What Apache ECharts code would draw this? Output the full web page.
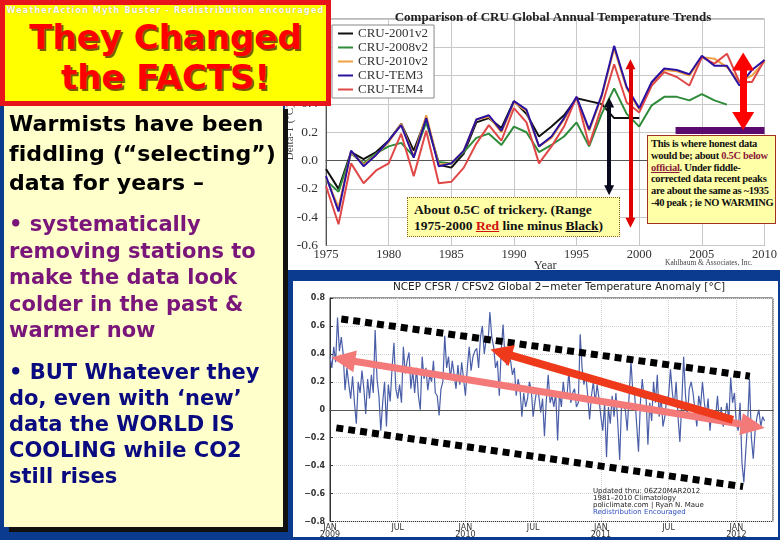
<!DOCTYPE html>
<html>
<head>
<meta charset="utf-8">
<script src="https://cdn.jsdelivr.net/npm/echarts/dist/echarts.min.js"></script>
<style>
  body { margin: 0; background: #0b3b8f; }
  #slide { position: relative; width: 780px; height: 540px; overflow: hidden; background: #0b3b8f; }
  .bg-top { position: absolute; left: 285px; top: 0; width: 495px; height: 270px; background: #fff; }
  .bg-bottom { position: absolute; left: 293px; top: 281px; width: 485px; height: 256px; background: #fff; }
  #chart { position: absolute; left: 0; top: 0; width: 780px; height: 540px; z-index: 1; }

  .title-box {
    position: absolute; left: 0; top: 0; width: 331px; height: 106px; box-sizing: border-box;
    background: #ffff00; border: 5px solid #e8141c; z-index: 3;
  }
  .title-box .tiny {
    position: absolute; left: 0; right: 0; top: 1px; text-align: center;
    font: bold 8px "DejaVu Sans", sans-serif; letter-spacing: 1.2px; color: #fff;
    text-shadow: 0 0 1px #b0a000;
  }
  .title-box .big {
    position: absolute; left: 0; right: 0; top: 12px; text-align: center;
    font: bold 34px/40px "DejaVu Sans", sans-serif; color: #ff0000;
    text-shadow: 2px 2px 0 #7a5c00;
  }

  .left-panel {
    position: absolute; left: 4px; top: 104px; width: 279px; height: 423px;
    background: #ffffcc; box-shadow: 5px 5px 0 #111; z-index: 2;
  }
  .left-panel div { position: absolute; left: 5px; font-family: "DejaVu Sans", sans-serif; font-weight: bold; white-space: nowrap; }
  .txt-black { top: 5px; font-size: 22px; line-height: 29.5px; letter-spacing: 0.1px; color: #000; }
  .txt-purple { top: 107px; font-size: 21px; line-height: 26.5px; color: #7a167a; }
  .txt-navy { top: 255px; font-size: 21px; line-height: 26px; color: #0a0a80; }

  .note1 {
    position: absolute; left: 407px; top: 197px; width: 213px; height: 40px; box-sizing: border-box;
    background: #ffffa8; border: 1px dotted #8b5a2b; z-index: 2;
    padding: 4px 0 0 6px; font: bold 13.5px/16px "Liberation Serif", serif; color: #111; white-space: nowrap;
  }
  .note2 {
    position: absolute; left: 647px; top: 135px; width: 129px; height: 89px; box-sizing: border-box;
    background: #ffffa8; border: 1px solid #a03020; z-index: 2;
    padding: 2px 0 0 3px; font: bold 10.5px/11.8px "Liberation Serif", serif; letter-spacing: -0.3px;
    color: #111; white-space: nowrap;
  }
  .maroon { color: #8b1a3a; }
  .kahl { position: absolute; left: 665px; top: 258px; font: 7.5px "Liberation Serif", serif; color: #444; z-index: 2; }
  .credit {
    position: absolute; left: 593px; top: 488px; font: 7px/7px "DejaVu Sans", sans-serif; color: #222; z-index: 2;
    white-space: nowrap;
  }
  .credit .blue { color: #3050c0; }
</style>
</head>
<body>
<div id="slide">
  <div class="bg-top"></div>
  <div class="bg-bottom"></div>
  <div id="chart"></div>

  <div class="title-box">
    <div class="tiny">WeatherAction Myth Buster - Redistribution encouraged</div>
    <div class="big">They Changed<br>the FACTS!</div>
  </div>

  <div class="left-panel">
    <div class="txt-black">Warmists have been<br>fiddling (“selecting”)<br>data for years –</div>
    <div class="txt-purple">• systematically<br>removing stations to<br>make the data look<br>colder in the past &amp;<br>warmer now</div>
    <div class="txt-navy">• BUT Whatever they<br>do, even with ‘new’<br>data the WORLD IS<br>COOLING while CO2<br>still rises</div>
  </div>

  <div class="note1">About 0.5C of trickery. (Range<br>1975-2000 <u style="color:#d01010">Red</u> line minus <u>Black</u>)</div>
  <div class="note2">This is where honest data<br>would be; about <span class="maroon">0.5C below</span><br><u class="maroon">official</u>. Under fiddle-<br>corrected data recent peaks<br>are about the same as ~1935<br>-40 peak ; ie NO WARMING</div>
  <div class="kahl">Kahlbaum &amp; Associates, Inc.</div>
  <div class="credit">Updated thru: 06Z20MAR2012<br>1981–2010 Climatology<br>policlimate.com | Ryan N. Maue<br><span class="blue">Redistribution Encouraged</span></div>
</div>

<script>
// CRU annual series, 1975..2010 (null = series not available)
const cruYears = [
  1975, 1976, 1977, 1978, 1979, 1980, 1981, 1982, 1983, 1984, 1985, 1986,
  1987, 1988, 1989, 1990, 1991, 1992, 1993, 1994, 1995, 1996, 1997, 1998,
  1999, 2000, 2001, 2002, 2003, 2004, 2005, 2006, 2007, 2008, 2009, 2010,
]
const cru2001v2 = [
  -0.06, -0.20, 0.06, 0.01, 0.06, 0.14, 0.26, 0.07, 0.30, -0.03, -0.05, 0.05,
  0.27, 0.30, 0.23, 0.42, 0.33, 0.17, 0.24, 0.32, 0.44, 0.42, 0.40, 0.30,
  0.30, 0.30, null, null, null, null, null, null, null, null, null, null,
]
const cru2008v2 = [
  -0.14, -0.22, 0.05, -0.02, 0.05, 0.10, 0.125, 0.03, 0.27, -0.01, -0.02, 0.06,
  0.16, 0.19, 0.11, 0.24, 0.20, 0.06, 0.11, 0.17, 0.27, 0.10, 0.33, 0.51,
  0.33, 0.24, 0.39, 0.45, 0.45, 0.425, 0.47, 0.425, 0.395, null, null, null,
]
const cru2010v2 = [
  -0.12, -0.33, 0.06, -0.03, 0.04, 0.13, 0.26, 0.03, 0.32, -0.03, -0.02, 0.07,
  0.29, 0.31, 0.20, 0.41, 0.35, 0.10, 0.16, 0.29, 0.44, 0.21, 0.45, 0.79,
  0.51, 0.36, 0.54, 0.64, 0.63, 0.60, 0.73, 0.72, 0.66, 0.56, 0.60, 0.70,
]
const cruTem3 = [
  -0.11, -0.36, 0.07, -0.04, 0.04, 0.14, 0.25, 0.02, 0.30, -0.04, -0.02, 0.07,
  0.29, 0.32, 0.21, 0.42, 0.36, 0.10, 0.17, 0.30, 0.45, 0.22, 0.46, 0.81,
  0.52, 0.37, 0.555, 0.65, 0.64, 0.61, 0.74, 0.67, 0.67, 0.53, 0.64, 0.71,
]
const cruTem4 = [
  -0.18, -0.45, -0.02, -0.16, -0.07, -0.02, 0.19, -0.11, 0.21, -0.16, -0.15, -0.05,
  0.12, 0.25, 0.14, 0.37, 0.27, -0.02, 0.10, 0.24, 0.45, 0.11, 0.38, 0.68,
  0.41, 0.34, 0.53, 0.625, 0.59, 0.53, 0.73, 0.685, 0.755, 0.555, 0.555, 0.71,
]
const yearTicks = [1975, 1980, 1985, 1990, 1995, 2000, 2005, 2010]

// NCEP CFSR/CFSv2 anomaly, about every 5 days (6 per month) from Jan 2009
const ncepStepMonths = 1 / 6
const ncepAnom = [
  // 2009
  0.38, 0.30, 0.45, 0.34, 0.66, 0.42, 0.52, 0.40, 0.14, 0.30, 0.18, 0.08,
  0.24, 0.05, -0.10, 0.20, 0.12, 0.28, 0.15, -0.03, 0.22, 0.08, 0.25, 0.12,
  0.57, 0.22, 0.10, -0.15, 0.05, 0.20, -0.12, 0.18, 0.06, 0.30, 0.48, 0.15,
  0.08, 0.18, 0.05, 0.45, 0.26, 0.35, 0.41, 0.15, 0.28, 0.12, 0.30, 0.10,
  0.00, 0.38, 0.22, 0.30, 0.14, 0.25, 0.20, 0.35, 0.12, 0.10, -0.04, 0.15,
  0.20, 0.53, 0.30, 0.38, 0.22, 0.35, 0.25, 0.15, 0.32, 0.18, 0.34, 0.22,
  // 2010
  0.10, 0.30, 0.45, 0.28, 0.38, 0.42, 0.44, 0.30, 0.52, 0.60, 0.40, 0.50,
  0.48, 0.70, 0.52, 0.45, 0.30, 0.35, 0.10, 0.42, 0.61, 0.38, 0.32, 0.40,
  0.35, 0.25, 0.30, 0.10, 0.22, 0.15, -0.05, 0.12, 0.02, 0.08, 0.20, 0.14,
  -0.05, 0.06, 0.15, 0.10, -0.02, 0.08, -0.19, 0.07, 0.25, 0.05, 0.10, 0.02,
  0.12, -0.22, 0.12, 0.02, 0.20, 0.08, 0.10, 0.28, 0.05, 0.12, 0.15, 0.02,
  0.05, 0.54, 0.30, 0.18, 0.25, 0.10, -0.07, 0.10, 0.20, 0.05, 0.18, 0.08,
  // 2011
  -0.05, -0.15, 0.05, -0.34, 0.02, -0.10, 0.10, -0.05, 0.12, -0.10, -0.36, 0.05,
  0.05, 0.00, -0.15, 0.10, 0.35, 0.12, 0.10, -0.10, -0.30, 0.05, 0.22, 0.08,
  0.10, -0.25, 0.05, -0.08, 0.20, 0.05, 0.25, -0.05, 0.10, -0.12, -0.05, 0.08,
  0.10, 0.29, 0.12, 0.02, 0.20, -0.05, -0.23, 0.05, 0.38, 0.10, -0.05, 0.15,
  0.20, 0.12, 0.00, -0.12, 0.10, 0.02, 0.20, 0.05, -0.05, 0.08, -0.15, 0.00,
  0.00, -0.05, 0.10, -0.10, 0.02, -0.12, -0.05, 0.05, -0.08, 0.23, 0.05, 0.12,
  // 2012
  -0.10, -0.15, 0.05, -0.38, -0.52, -0.30, -0.10, 0.22, -0.20, -0.35, -0.15, -0.05,
  0.00, -0.12, -0.05, -0.08,
]
const monthLabels = { 0: 'JAN\n2009', 6: 'JUL', 12: 'JAN\n2010', 18: 'JUL', 24: 'JAN\n2011', 30: 'JUL', 36: 'JAN\n2012' }

const serif = 'Liberation Serif'
const sans = 'DejaVu Sans'

function pairs(xs, ys) {
  const out = []
  xs.forEach((x, i) => {
    if (ys[i] !== null)
      out.push([x, ys[i]])
  })
  return out
}

function cruSeries(name, values, color) {
  return {
    name,
    type: 'line',
    xAxisIndex: 0,
    yAxisIndex: 0,
    data: pairs(cruYears, values),
    showSymbol: false,
    lineStyle: { color, width: 2 },
    itemStyle: { color },
    emphasis: { disabled: true },
  }
}

// line helper for the drawn-on annotations (arrows, bars)
function seg(from, to, color, width, fromSym, toSym, type) {
  const ls = { color, width, type: type || 'solid', cap: 'butt' }
  return [
    { coord: from, symbol: fromSym ? 'triangle' : 'none', symbolSize: fromSym || 0, lineStyle: ls },
    { coord: to, symbol: toSym ? 'triangle' : 'none', symbolSize: toSym || 0, lineStyle: ls },
  ]
}

const ncepData = ncepAnom.map((v, i) => [i * ncepStepMonths, v])

const tem3 = cruSeries('CRU-TEM3', cruTem3, '#2c12a0')
tem3.markLine = {
  silent: true,
  animation: false,
  symbol: 'none',
  label: { show: false },
  emphasis: { disabled: true },
  data: [
    seg([1997.6, 0.41], [1997.6, -0.21], '#0a0a1e', 4, [10, 10], [10, 10]),
    seg([1999.3, 0.68], [1999.3, -0.44], '#e00000', 4, [10, 10], [10, 10]),
    seg([2002.9, 0.215], [2010, 0.215], '#5b0b70', 7),
    seg([2008.3, 0.70], [2008.3, 0.28], '#ff0000', 7, [22, 18], [22, 18]),
  ],
}

const ncep = {
  name: 'NCEP',
  type: 'line',
  xAxisIndex: 1,
  yAxisIndex: 1,
  data: ncepData,
  showSymbol: false,
  lineStyle: { color: '#4a5ea8', width: 1.2 },
  emphasis: { disabled: true },
  markLine: {
    silent: true,
    animation: false,
    symbol: 'none',
    label: { show: false },
    emphasis: { disabled: true },
    data: [
      [{ coord: [0, 0], lineStyle: { color: '#555', width: 1, type: 'solid' } }, { coord: [39.25, 0] }],
      seg([1.0, 0.65], [37.2, 0.24], '#000', 7, null, null, [7, 5]),
      seg([0.56, -0.13], [36.6, -0.55], '#000', 7, null, null, [7, 5]),
      seg([1.17, 0.36], [37.47, -0.116], '#f47a7a', 7, [22, 24], [22, 24]),
      seg([35.7, -0.072], [15.16, 0.41], '#ee3a1a', 8, null, [22, 22]),
    ],
  },
}

const option = {
  animation: false,
  title: [
    {
      text: 'Comparison of CRU Global Annual Temperature Trends',
      left: 548,
      top: 6,
      textAlign: 'center',
      textStyle: { fontFamily: serif, fontWeight: 'bold', fontSize: 13, color: '#222' },
    },
    {
      text: 'NCEP CFSR / CFSv2 Global 2−meter Temperature Anomaly [°C]',
      left: 554,
      top: 277,
      textAlign: 'center',
      textStyle: { fontFamily: sans, fontWeight: 'normal', fontSize: 10.5, color: '#222' },
    },
  ],
  legend: {
    data: ['CRU-2001v2', 'CRU-2008v2', 'CRU-2010v2', 'CRU-TEM3', 'CRU-TEM4'],
    orient: 'vertical',
    left: 332,
    top: 25,
    backgroundColor: '#fff',
    borderColor: '#888',
    borderWidth: 1,
    padding: [2, 6, 2, 6],
    itemGap: 1,
    itemWidth: 15,
    itemHeight: 2,
    icon: 'rect',
    selectedMode: false,
    textStyle: { fontFamily: serif, fontSize: 13, color: '#333' },
  },
  grid: [
    { left: 326, top: 19, width: 444, height: 226.5, show: true, borderColor: '#777', borderWidth: 1, backgroundColor: 'transparent' },
    { left: 330, top: 298, width: 443, height: 223.5, show: true, borderColor: '#333', borderWidth: 1, backgroundColor: 'transparent' },
  ],
  xAxis: [
    {
      type: 'value',
      gridIndex: 0,
      min: 1975,
      max: 2010,
      interval: 5,
      name: 'Year',
      nameLocation: 'middle',
      nameGap: 14,
      nameMoveOverlap: false,
      nameTextStyle: { fontFamily: serif, fontSize: 12.5, color: '#333' },
      axisLine: { lineStyle: { color: '#555' } },
      axisTick: { show: false },
      axisLabel: { fontFamily: serif, fontSize: 12.5, color: '#333', margin: 3, formatter: v => (yearTicks.includes(v) ? String(v) : '') },
      splitLine: { lineStyle: { color: '#c8c8c8' } },
    },
    {
      type: 'value',
      gridIndex: 1,
      min: 0,
      max: 39.25,
      interval: 6,
      axisLine: { lineStyle: { color: '#333' } },
      axisTick: { show: false },
      axisLabel: {
        fontFamily: sans,
        fontSize: 8,
        lineHeight: 7,
        color: '#333',
        margin: 3,
        showMaxLabel: false,
        formatter: v => monthLabels[v] || '',
      },
      splitLine: { lineStyle: { color: '#d0d0d0', type: 'dotted' } },
    },
  ],
  yAxis: [
    {
      type: 'value',
      gridIndex: 0,
      min: -0.6,
      max: 1.0,
      interval: 0.2,
      name: 'Delta-T (°C)',
      nameLocation: 'middle',
      nameRotate: 90,
      nameGap: 30,
      nameMoveOverlap: false,
      nameTextStyle: { fontFamily: serif, fontSize: 11, color: '#444' },
      axisLine: { show: true, lineStyle: { color: '#555' } },
      axisTick: { show: false },
      axisLabel: { fontFamily: serif, fontSize: 13.5, color: '#333', margin: 8, formatter: v => v.toFixed(1) },
      splitLine: { lineStyle: { color: '#c8c8c8' } },
    },
    {
      type: 'value',
      gridIndex: 1,
      min: -0.8,
      max: 0.8,
      interval: 0.2,
      axisLine: { show: true, lineStyle: { color: '#333' } },
      axisTick: { show: true, inside: true, length: 3 },
      axisLabel: {
        fontFamily: sans,
        fontSize: 8,
        fontWeight: 'bold',
        color: '#333',
        margin: 5,
        formatter: v => (Math.abs(v) < 1e-9 ? '0' : v.toFixed(1).replace('-', '−')),
      },
      splitLine: { lineStyle: { color: '#d0d0d0', type: 'dotted' } },
    },
  ],
  series: [
    cruSeries('CRU-2001v2', cru2001v2, '#111111'),
    cruSeries('CRU-2008v2', cru2008v2, '#2e8b3a'),
    cruSeries('CRU-2010v2', cru2010v2, '#f0a040'),
    cruSeries('CRU-TEM4', cruTem4, '#e04848'),
    tem3,
    ncep,
  ],
}

const myChart = echarts.init(document.getElementById('chart'), null, { renderer: 'canvas' })
myChart.setOption(option)
</script>
</body>
</html>
